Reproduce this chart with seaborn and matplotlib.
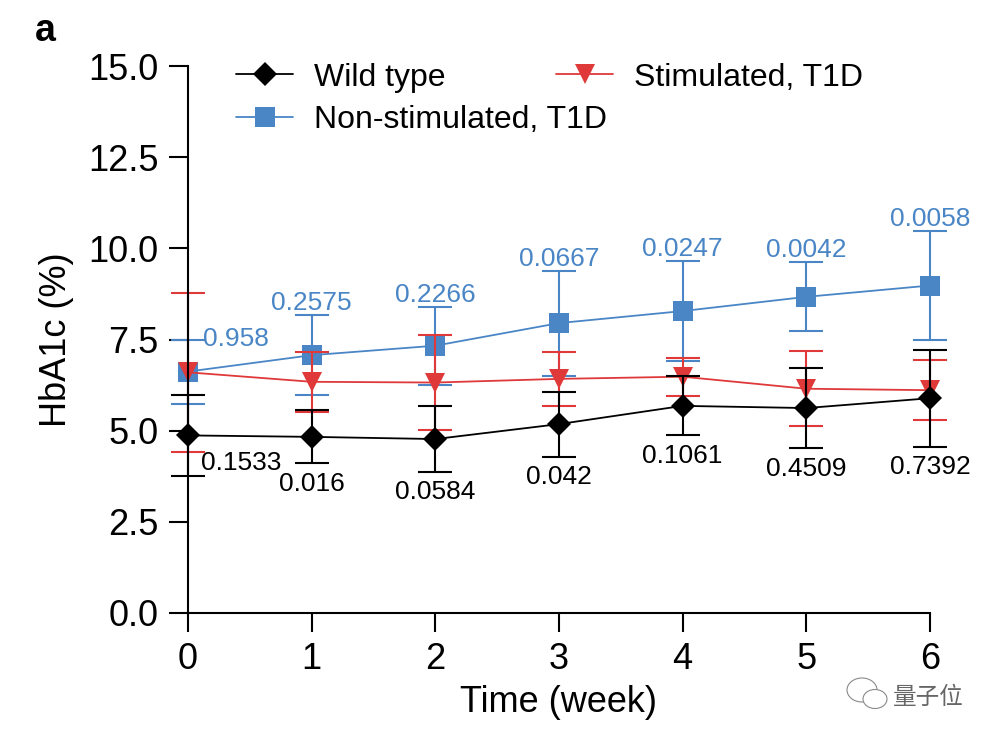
import numpy as np
import pandas as pd
import matplotlib
matplotlib.use("Agg")
import matplotlib.pyplot as plt
import seaborn as sns
from matplotlib.lines import Line2D
from matplotlib.patches import Ellipse, Circle

# ---------------- data ----------------
weeks = [0, 1, 2, 3, 4, 5, 6]
wt_mean = [4.87, 4.83, 4.77, 5.18, 5.68, 5.62, 5.89]
wt_err = [1.11, 0.73, 0.90, 0.89, 0.81, 1.10, 1.33]
stim_mean = [6.60, 6.34, 6.32, 6.42, 6.48, 6.15, 6.11]
stim_err = [2.18, 0.82, 1.30, 0.73, 0.52, 1.03, 0.82]
nonstim_mean = [6.62, 7.07, 7.33, 7.95, 8.28, 8.67, 8.98]
nonstim_err = [0.88, 1.10, 1.07, 1.44, 1.38, 0.95, 1.50]
nonstim_p = ["0.958", "0.2575", "0.2266", "0.0667", "0.0247", "0.0042", "0.0058"]
wt_p = ["0.1533", "0.016", "0.0584", "0.042", "0.1061", "0.4509", "0.7392"]
yticks = [0.0, 2.5, 5.0, 7.5, 10.0, 12.5, 15.0]
group_names = ["Wild type", "Stimulated, T1D", "Non-stimulated, T1D"]

BLACK = "#000000"
RED = "#e0393a"
BLUE = "#4a86c6"

sns.set_theme(style="ticks")
plt.rcParams['font.family'] = ['Liberation Sans', 'DejaVu Sans']
plt.rcParams['text.color'] = 'black'
plt.rcParams['axes.labelcolor'] = 'black'

df = pd.DataFrame({
    "week": weeks * 3,
    "value": nonstim_mean + stim_mean + wt_mean,
    "group": [group_names[2]] * 7 + [group_names[1]] * 7 + [group_names[0]] * 7,
})

fig = plt.figure(figsize=(9.96, 7.38), dpi=100)
ax = fig.add_axes([188 / 996, 1 - 613 / 738, 742 / 996, 547 / 738])

specs = [
    (group_names[2], nonstim_mean, nonstim_err, BLUE, "s", 15, 1),
    (group_names[1], stim_mean, stim_err, RED, "v", 15, 2),
    (group_names[0], wt_mean, wt_err, BLACK, "D", 12, 3),
]
for name, m, e, c, mk, ms, z in specs:
    ax.errorbar(weeks, m, yerr=e, fmt="none", ecolor=c, elinewidth=1.5,
                capsize=12, capthick=1.5, zorder=z, clip_on=False)
    sub = df[df["group"] == name]
    sns.lineplot(data=sub, x="week", y="value", ax=ax, color=c, marker=mk,
                 markersize=ms, markeredgewidth=0, linewidth=1.3,
                 zorder=z + 0.5, clip_on=False, legend=False)

ax.set_xlim(0, 6)
ax.set_ylim(0, 15)
ax.set_xticks(weeks)
ax.set_yticks(yticks)
ax.set_yticklabels([f"{v:.1f}" for v in yticks])
ax.tick_params(axis="both", labelsize=26, length=14, width=1.5, pad=7, colors="black")
for s in ["top", "right"]:
    ax.spines[s].set_visible(False)
for s in ["left", "bottom"]:
    ax.spines[s].set_linewidth(1.5)
    ax.spines[s].set_color("black")
ax.set_xlabel("Time (week)", fontsize=26, labelpad=6, color="black")
ax.set_ylabel("HbA1c (%)", fontsize=26, labelpad=10, color="black")

# p-value labels
for i, w in enumerate(weeks):
    top = nonstim_mean[i] + nonstim_err[i]
    bot = wt_mean[i] - wt_err[i]
    if i == 0:
        ax.annotate(nonstim_p[i], (w, top), xytext=(11, 0), textcoords="offset points",
                    ha="left", va="center", fontsize=19, color=BLUE)
        ax.annotate(wt_p[i], (w, wt_mean[i]), xytext=(9, -11), textcoords="offset points",
                    ha="left", va="top", fontsize=19, color=BLACK)
    else:
        ax.annotate(nonstim_p[i], (w, top), xytext=(0, 0), textcoords="offset points",
                    ha="center", va="bottom", fontsize=19, color=BLUE)
        ax.annotate(wt_p[i], (w, bot), xytext=(0, -6), textcoords="offset points",
                    ha="center", va="top", fontsize=19, color=BLACK)

# legends
def handle(c, mk, ms):
    return Line2D([0], [0], color=c, marker=mk, markersize=ms, markeredgewidth=0, linewidth=1.3)

leg1 = ax.legend([handle(BLACK, "D", 12), handle(BLUE, "s", 15)],
                 [group_names[0], group_names[2]], loc="upper left",
                 bbox_to_anchor=((237 - 188) / 742 - 0.010, 1.018), frameon=False,
                 fontsize=23, handlelength=1.8, handletextpad=0.65, labelspacing=0.38,
                 borderaxespad=0, borderpad=0.2)
ax.add_artist(leg1)
ax.legend([handle(RED, "v", 15)], [group_names[1]], loc="upper left",
          bbox_to_anchor=((557 - 188) / 742 - 0.010, 1.018), frameon=False,
          fontsize=23, handlelength=1.8, handletextpad=0.65,
          borderaxespad=0, borderpad=0.2)

fig.text(35 / 996, 1 - 41 / 738, "a", fontsize=27, fontweight="bold", ha="left", va="baseline")

# watermark
W, H = 996, 738
gray = "#8a8a8a"
fig.patches.append(Ellipse((862 / W, 1 - 690 / H), 30 / W, 24 / H, transform=fig.transFigure,
                           facecolor="white", edgecolor=gray, linewidth=0.8))
fig.patches.append(Ellipse((875 / W, 1 - 699 / H), 24 / W, 19 / H, transform=fig.transFigure,
                           facecolor="white", edgecolor=gray, linewidth=0.8))
fig.text(893 / W, 1 - 704 / H, "量子位", fontsize=17, color="#666666",
         family=["Noto Sans CJK SC", "DejaVu Sans"], ha="left", va="baseline")

fig.savefig("out.png", dpi=100)
